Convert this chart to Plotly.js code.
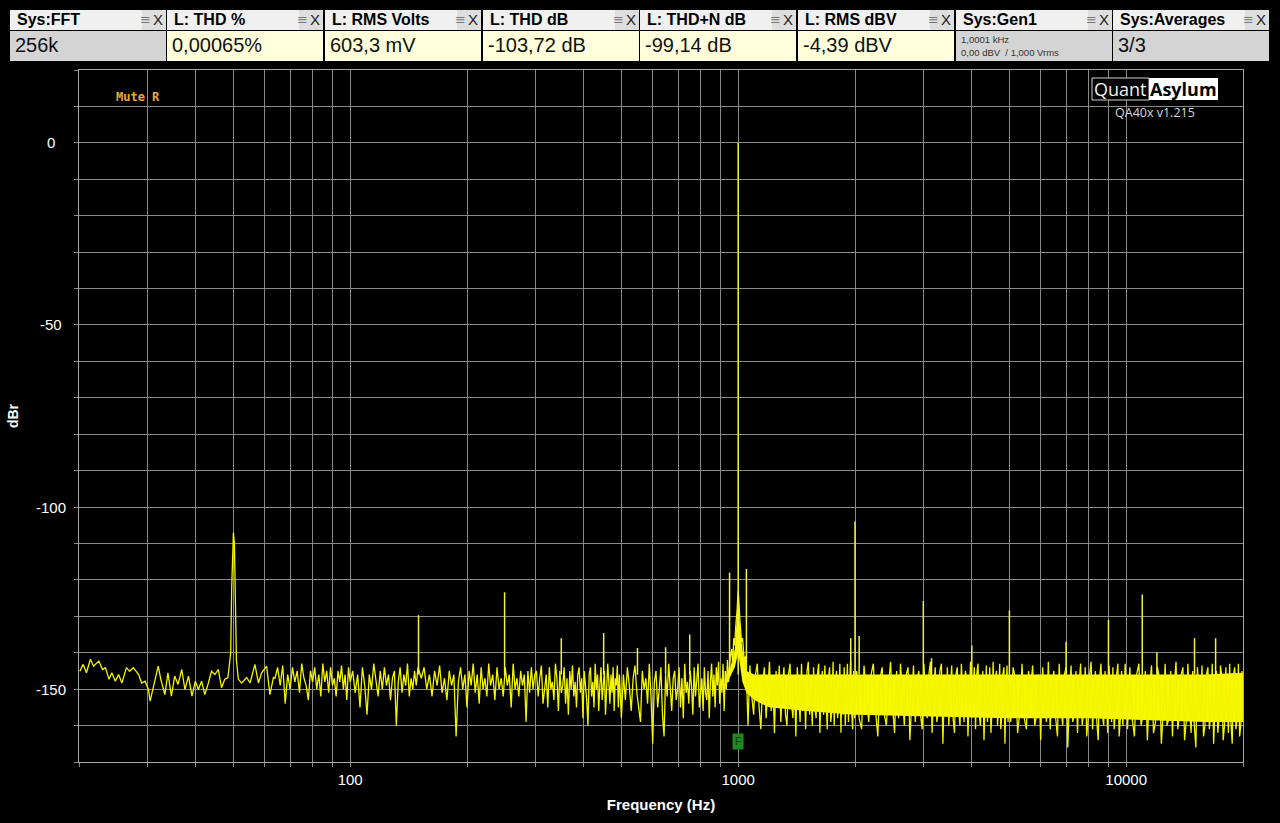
<!DOCTYPE html>
<html>
<head>
<meta charset="utf-8">
<script src="https://cdn.plot.ly/plotly-3.0.1.min.js"></script>
<style>
html,body{margin:0;padding:0;background:#000;}
#chart{width:1280px;height:823px;}
</style>
</head>
<body>
<div id="chart"></div>
<script>
// ---------------- DATA ----------------
// Header readouts
const headerLabels = ['Sys:FFT','L: THD %','L: RMS Volts','L: THD dB','L: THD+N dB','L: RMS dBV','Sys:Gen1','Sys:Averages'];
const headerValues = ['256k','0,00065%','603,3 mV','-103,72 dB','-99,14 dB','-4,39 dBV','','3/3'];
const gen1Lines = ['1,0001 kHz','0,00 dBV  / 1,000 Vrms'];

// Axis ticks
const xGridHz = [20,30,40,50,60,70,80,90,100,200,300,400,500,600,700,800,900,1000,2000,3000,4000,5000,6000,7000,8000,9000,10000,20000];
const xLabelHz = [100,1000,10000];
const yGridDbr = [-170,-160,-150,-140,-130,-120,-110,-100,-90,-80,-70,-60,-50,-40,-30,-20,-10,0,10,20];
const yLabelDbr = [0,-50,-100,-150];

// Spectrum, 20–63 Hz (incl. 50 Hz hum)
const segA_hz = [20.1,20.5,20.9,21.4,21.8,22.5,23.0,23.4,23.9,24.3,
  24.8,25.3,25.8,26.5,27.0,27.6,28.5,29.0,29.6,30.2,
  30.5,31.1,32.0,32.5,33.3,33.9,34.6,35.3,36.0,36.8,
  37.5,38.3,39.1,39.9,40.6,41.4,42.2,43.1,43.9,44.8,
  45.7,46.6,47.5,48.4,49.2,49.5,49.8,50.0,50.3,50.6,
  50.9,51.5,52.5,54.1,55.2,56.8,58.0,59.1,60.9,62.1,63.4];
const segA_dbr = [-145.1,-143.2,-145.5,-141.8,-143.7,-142.3,-144.6,-144.1,-147.3,-145.5,
  -147.8,-146,-148.3,-144.1,-145.1,-144.1,-146,-148.3,-147.8,-150.1,
  -153.3,-149.6,-143.7,-147.3,-151.5,-145.5,-151.9,-146.4,-148.7,-144.6,
  -150.1,-146.4,-151.9,-147.8,-150.1,-147.8,-151.5,-148.3,-145.1,-146,
  -144.6,-149.6,-147.3,-146.8,-140,-122,-108,-107,-110,-126,
  -142,-147.3,-148.3,-146.8,-148.3,-143.2,-148.3,-145.5,-143.7,-151.5,-146.8];

// Spectrum, 64–300 Hz
const segB_hz = [64,65,66,67,68,69,70,71,72,73,74,75,76,77,78,79,80,81,82,83,84,85,86,87,88,89,90,91,92,93,94,95,96,97,98,99,100,
  101.5,103,104.5,106,107.5,109,110.5,112,113.5,115,116.5,118,119.5,121,122.5,124,125.5,127,128.5,130,131.5,133,134.5,136,137.5,139,140.5,142,143.5,145,146.5,148,149.5,
  152.5,155,157.5,160,162.5,165,167.5,170,172.5,175,177.5,180,182.5,185,187.5,190,192.5,195,197.5,200,202.5,205,207.5,210,212.5,215,217.5,220,222.5,225,227.5,230,
  233,236,239,242,245,248,251,254,257,260,263,266,269,272,275,278,281,284,287,290,293,296,299];
const segB_dbr = [-147,-144,-149,-143.5,-154,-146,-150,-144,-148,-145,-151,-143,-147,-149,-153,-145,-148,-144,-150,-146,-152,-143,-148,-145,-151,-144,-149,-147,-152,-145,-148,-143.5,-150,-146,-153,-144,-148,
  -145,-151,-146,-155,-144,-149,-157,-146,-150,-143,-148,-152,-145,-150,-144,-149,-146,-153,-147,-145,-160,-148,-144,-151,-146,-149,-143,-152,-147,-150,-145,-149,-144,
  -147,-144,-150,-146,-152,-145,-149,-143.5,-151,-147,-153,-145,-149,-146,-163,-148,-144,-150,-146,-155,-145,-149,-143,-151,-146,-154,-144,-150,-147,-152,-143,-149,
  -146,-153,-144,-150,-147,-152,-144,-149,-146,-155,-143,-150,-147,-152,-145,-149,-146,-159,-145,-151,-144,-150,-146];

// Spectrum, 300–500 Hz
const segC_hz = [302,305,308,311,314,317,320,323,326,329,332,335,338,341,344,347,350,353,356,359,
  362,365,368,371,374,377,380,383,386,389,392,395,398,401,404,407,410,413,416,419,
  422,425,428,431,434,437,440,443,446,449,452,455,458,461,464,467,470,473,476,479,
  482,485,488,491,494,497,500];
const segC_dbr = [-145,-152,-147,-143.5,-154,-149,-146,-155,-144,-150,
  -148,-153,-143,-147,-156,-145,-151,-149,-144,-154,
  -147,-157,-145,-150,-143.5,-152,-148,-155,-146,-144,
  -151,-147,-158,-145,-149,-153,-160,-146,-144,-152,
  -148,-155,-143,-150,-146,-156,-149,-144,-153,-147,
  -145,-157,-150,-143,-148,-154,-146,-151,-144,-156,
  -147,-149,-143.5,-155,-146,-152,-158];

// Spectrum, 500–950 Hz
const segD_hz = [506,512,518,524,530,536,542,548,554,560,566,572,578,584,590,596,602,608,614,620,
  626,632,638,644,650,656,662,668,674,680,686,692,698,704,710,716,722,728,734,740,
  746,752,758,764,770,776,782,788,794,800,806,812,818,824,830,836,842,848,854,860,
  866,872,878,884,890,896,902,908,914,920,926,932,938,944];
const segD_dbr = [-146,-153,-144,-149,-156,-147,-143.5,-151,-155,-159,
  -145,-150,-147,-154,-143,-152,-165,-148,-145,-155,
  -150,-144,-157,-163,-146,-152,-143,-149,-156,-147,
  -145,-153,-150,-144,-155,-147,-158,-143,-151,-148,
  -154,-145,-149,-157,-144,-152,-146,-143,-155,-150,
  -147,-156,-144,-151,-153,-145,-158,-148,-143,-152,
  -146,-155,-144,-149,-142.5,-154,-147,-151,-143,-156,
  -145,-150,-142,-148];

// Skirt around the 1 kHz fundamental
const skirt_hz = [954,962,968,974,980,985,990,994,997,1000,1003,1006,1010,1015,1020,1026,1032,1038,1044,1050];
const skirt_dbr = [-141,-139,-143,-136,-138,-133,-131,-128,-125,-123,-125,-129,-131,-134,-137,-136,-140,-143,-141,-146];

// Spectrum, 1.06–2 kHz
const segE_hz = [1060,1072,1084,1096,1108,1120,1132,1144,1156,1168,1180,1192,1204,1216,1228,1240,1252,1264,1276,1288,
  1300,1312,1324,1336,1348,1360,1372,1384,1396,1408,1420,1432,1444,1456,1468,1480,1492,1504,1516,1528,
  1540,1552,1564,1576,1588,1600,1612,1624,1636,1648,1660,1672,1684,1696,1708,1720,1732,1744,1756,1768,
  1780,1792,1804,1816,1828,1840,1852,1864,1876,1888,1900,1912,1924,1936,1948,1960,1972,1984,1996];
const segE_dbr = [-160,-143.5,-152,-157,-146,-143,-155,-161,-148,-144,
  -158,-150,-142.5,-156,-147,-162,-145,-153,-143.5,-159,
  -149,-144,-157,-160,-146,-143,-154,-158,-147,-163,
  -144,-151,-159,-143,-156,-148,-161,-145,-142.5,-157,
  -150,-160,-144,-155,-158,-146,-143,-162,-149,-145,
  -157,-143.5,-153,-161,-147,-144,-159,-156,-142.5,-160,
  -148,-145,-158,-154,-143,-162,-146,-157,-144,-160,
  -151,-143,-159,-147,-142,-156,-161,-145,-158];

// Spectrum, 2–5 kHz
const segF_hz = [2020,2050,2080,2110,2140,2170,2200,2230,2260,2290,
  2320,2350,2380,2410,2440,2470,2500,2530,2560,2590,
  2620,2650,2680,2710,2740,2770,2800,2830,2860,2890,
  2920,2950,2980,3010,3040,3070,3100,3130,3160,3190,
  3220,3250,3280,3310,3340,3370,3400,3430,3460,3490,
  3520,3550,3580,3610,3640,3670,3700,3730,3760,3790,
  3820,3850,3880,3910,3940,3970,4000,4030,4060,4090,
  4120,4150,4180,4210,4240,4270,4300,4330,4360,4390,
  4420,4450,4480,4510,4540,4570,4600,4630,4660,4690,
  4720,4750,4780,4810,4840,4870,4900,4930,4960,4990];
const segF_dbr = [-145,-158,-161,-143.5,-152,-159,-146,-143,-156,-163,
  -147,-144,-157,-160,-149,-142.5,-155,-162,-145,-158,
  -143,-151,-160,-146,-144,-164,-155,-143.5,-159,-148,
  -145,-157,-161,-143,-153,-158,-146,-142.5,-162,-150,
  -144,-159,-156,-145,-143,-165,-148,-157,-144,-160,
  -151,-143.5,-158,-162,-146,-144,-156,-160,-143,-153,
  -159,-145,-147,-163,-155,-142.5,-158,-149,-144,-161,
  -146,-143,-157,-160,-150,-145,-164,-153,-143.5,-159,
  -148,-144,-162,-156,-142.5,-158,-147,-145,-160,-154,
  -143,-161,-157,-146,-144,-165,-151,-143.5,-159,-148];

// Spectrum, 5–10 kHz
const segG_hz = [5040,5110,5180,5250,5320,5390,5460,5530,5600,5670,
  5740,5810,5880,5950,6020,6090,6160,6230,6300,6370,
  6440,6510,6580,6650,6720,6790,6860,6930,7000,7070,
  7140,7210,7280,7350,7420,7490,7560,7630,7700,7770,
  7840,7910,7980,8050,8120,8190,8260,8330,8400,8470,
  8540,8610,8680,8750,8820,8890,8960,9030,9100,9170,
  9240,9310,9380,9450,9520,9590,9660,9730,9800,9870,9940];
const segG_dbr = [-159,-144,-147,-162,-156,-143,-158,-161,-145,-150,
  -143.5,-160,-157,-146,-164,-144,-153,-159,-142.5,-161,
  -148,-145,-158,-163,-143,-155,-160,-146,-144,-166,
  -152,-143.5,-159,-157,-145,-162,-149,-143,-160,-156,
  -144,-163,-158,-146,-142.5,-161,-153,-145,-159,-164,
  -147,-143,-157,-160,-145,-155,-162,-143.5,-150,-159,
  -144,-161,-156,-146,-143,-163,-158,-145,-160,-152,-143];

// Spectrum, 10–20 kHz
const segH_hz = [10080,10220,10360,10500,10640,10780,10920,11060,11200,11340,
  11480,11620,11760,11900,12040,12180,12320,12460,12600,12740,
  12880,13020,13160,13300,13440,13580,13720,13860,14000,14140,
  14280,14420,14560,14700,14840,14980,15120,15260,15400,15540,
  15680,15820,15960,16100,16240,16380,16520,16660,16800,16940,
  17080,17220,17360,17500,17640,17780,17920,18060,18200,18340,
  18480,18620,18760,18900,19040,19180,19320,19460,19600,19740,19880];
const segH_dbr = [-161,-144,-158,-163,-146,-143,-160,-157,-145,-164,
  -150,-143.5,-162,-159,-144,-147,-165,-156,-143,-160,
  -158,-145,-163,-149,-142.5,-161,-157,-146,-144,-164,
  -159,-143,-155,-162,-145,-160,-166,-144,-151,-158,
  -143.5,-163,-160,-146,-144,-161,-157,-143,-165,-152,
  -145,-162,-158,-143.5,-147,-164,-160,-144,-156,-162,
  -143,-159,-165,-146,-144,-161,-158,-143,-163,-160,-145];

// Solid core of the noise band (envelope)
const bandHz     = [930,960,980,990,1000,1010,1025,1050,1100,1200,1500,2000,3000,5000,8000,12000,16000,20000];
const bandTop    = [-148,-143,-139,-132,-124,-132,-139,-145,-146,-146,-146,-146,-146,-146,-146,-146,-146,-145.5];
const bandBottom = [-149,-146,-144,-142,-140,-143,-148,-151,-153,-155,-156,-157,-157.5,-158,-158,-158.5,-159,-159];

// Discrete tones (fundamental, harmonics, mains-related spurs)
const spikeHz  = [150,250,350,450,550,650,750,950,1000,1050,1950,2000,2050,3000,3150,4000,5000,7000,9000,11000,12000,15000,17000];
const spikeDbr = [-129.7,-123.4,-136,-134.6,-138.7,-138.5,-135,-118,0,-117,-136,-104,-135.4,-125.8,-141.5,-138,-128.4,-137,-131,-124,-140,-136,-136];

// ---------------- STYLE / LAYOUT ----------------
const PL = 79, PT = 70, PW = 1164, PH = 692;       // plot area in px
const px = v => (v - PL) / PW;                      // px -> paper x
const py = v => (PT + PH - v) / PH;                 // px -> paper y
const spikeBase = -146;
const FONT = 'Liberation Sans, Arial, sans-serif';
const gridCol = '#8a8a8a';
const yellow = '#ffff00';

const specHz = [].concat(segA_hz, segB_hz, segC_hz, segD_hz, skirt_hz, segE_hz, segF_hz, segG_hz, segH_hz);
const specDbr = [].concat(segA_dbr, segB_dbr, segC_dbr, segD_dbr, skirt_dbr, segE_dbr, segF_dbr, segG_dbr, segH_dbr);

const traces = [
  {x: bandHz, y: bandBottom, mode: 'lines', line: {width: 0, color: yellow}, hoverinfo: 'skip', showlegend: false},
  {x: bandHz, y: bandTop, mode: 'lines', line: {width: 0, color: yellow}, fill: 'tonexty', fillcolor: '#f8f800', hoverinfo: 'skip', showlegend: false},
  {x: specHz, y: specDbr, mode: 'lines', line: {width: 1.3, color: '#f4f400'}, showlegend: false},
  {x: spikeHz.flatMap(f => [f, f, null]), y: spikeDbr.flatMap(d => [spikeBase, d, null]),
   mode: 'lines', line: {width: 1.5, color: '#f2f23a'}, connectgaps: false, showlegend: false}
];

const shapes = [];
const annotations = [];

// header boxes
const boxLeft = [10,167,325,483,640,798,956,1113];
const boxW = 156;
headerLabels.forEach((lab, i) => {
  const x0 = boxLeft[i], x1 = x0 + boxW;
  const isSys = lab.startsWith('Sys');
  shapes.push({type:'rect', xref:'paper', yref:'paper', x0:px(x0), x1:px(x1), y0:py(30), y1:py(10),
    fillcolor:'#f0f0f0', line:{width:0}, layer:'above'});
  shapes.push({type:'rect', xref:'paper', yref:'paper', x0:px(x1-24), x1:px(x1), y0:py(30), y1:py(10),
    fillcolor:'#dedede', line:{width:0}, layer:'above'});
  shapes.push({type:'rect', xref:'paper', yref:'paper', x0:px(x0), x1:px(x1), y0:py(61), y1:py(31),
    fillcolor: isSys ? '#d4d4d4' : '#ffffdc', line:{width:0}, layer:'above'});
  annotations.push({xref:'paper', yref:'paper', x:px(x0+5), y:py(20), xanchor:'left', yanchor:'middle',
    text:'<b>'+lab+'</b>', showarrow:false, font:{family:FONT, size:16, color:'#000'}});
  annotations.push({xref:'paper', yref:'paper', x:px(x1-13), y:py(20), xanchor:'right', yanchor:'middle',
    text:'≡', showarrow:false, font:{family:'DejaVu Sans, sans-serif', size:13, color:'#777'}});
  annotations.push({xref:'paper', yref:'paper', x:px(x1-1), y:py(20), xanchor:'right', yanchor:'middle',
    text:'X', showarrow:false, font:{family:FONT, size:15, color:'#222'}});
  if (headerValues[i]) {
    annotations.push({xref:'paper', yref:'paper', x:px(x0+3), y:py(45), xanchor:'left', yanchor:'middle',
      text:headerValues[i], showarrow:false, font:{family:FONT, size:20, color:'#111'}});
  }
});
// Gen1 two-line value
gen1Lines.forEach((t, k) => {
  annotations.push({xref:'paper', yref:'paper', x:px(boxLeft[6]+3), y:py(40 + k*12), xanchor:'left', yanchor:'middle',
    text:t, showarrow:false, font:{family:FONT, size:9.5, color:'#333'}});
});

// logo
shapes.push({type:'rect', xref:'paper', yref:'paper', x0:px(1092), x1:px(1149), y0:py(100), y1:py(78),
  fillcolor:'#000', line:{width:1, color:'#cfcfcf'}, layer:'above'});
shapes.push({type:'rect', xref:'paper', yref:'paper', x0:px(1149), x1:px(1218), y0:py(100), y1:py(78),
  fillcolor:'#ffffff', line:{width:0}, layer:'above'});
annotations.push({xref:'paper', yref:'paper', x:px(1120.5), y:py(89), xanchor:'center', yanchor:'middle',
  text:'Quant', showarrow:false, font:{family:'Open Sans, Noto Sans, sans-serif', size:18, color:'#f0f0f0'}});
annotations.push({xref:'paper', yref:'paper', x:px(1183.5), y:py(89), xanchor:'center', yanchor:'middle',
  text:'<b>Asylum</b>', showarrow:false, font:{family:'Open Sans, Noto Sans, sans-serif', size:18, color:'#000'}});
annotations.push({xref:'paper', yref:'paper', x:px(1155), y:py(112), xanchor:'center', yanchor:'middle',
  text:'QA40x v1.215', showarrow:false, font:{family:'Open Sans, Noto Sans, sans-serif', size:12.5, color:'#d8d8d8'}});

// Mute R
annotations.push({xref:'paper', yref:'paper', x:px(114), y:py(97), xanchor:'left', yanchor:'middle',
  text:'<b>Mute R</b>', showarrow:false, font:{family:'DejaVu Sans Mono, monospace', size:12, color:'#eca83a'}});

// y tick labels (centered, as in the reference)
yLabelDbr.forEach(v => {
  annotations.push({xref:'paper', yref:'y', x:px(51), y:v, xanchor:'center', yanchor:'middle',
    text:String(v), showarrow:false, font:{family:FONT, size:15, color:'#ffffff'}});
});

// F marker at fundamental
annotations.push({xref:'x', yref:'y', x:Math.log10(1000), y:-164.3, xanchor:'center', yanchor:'middle',
  text:'F', showarrow:false, bgcolor:'#1f8a1f', borderpad:2, font:{family:FONT, size:10, color:'#0a3a0a'}});

const layout = {
  width: 1280, height: 823,
  paper_bgcolor: '#000', plot_bgcolor: '#000',
  margin: {l: PL, r: 1280 - PL - PW, t: PT, b: 823 - PT - PH, pad: 0},
  showlegend: false,
  xaxis: {
    type: 'log', range: [Math.log10(20), Math.log10(20000)],
    tickmode: 'array', tickvals: xGridHz,
    ticktext: xGridHz.map(v => xLabelHz.includes(v) ? String(v) : ''),
    showgrid: true, gridcolor: gridCol, gridwidth: 1,
    ticks: 'outside', ticklen: 4, tickcolor: gridCol, tickwidth: 1,
    showline: true, linecolor: '#a8a8a8', linewidth: 1, mirror: true,
    tickfont: {family: FONT, size: 15, color: '#ffffff'},
    zeroline: false,
    title: {text: '<b>Frequency (Hz)</b>', font: {family: FONT, size: 15, color: '#ffffff'}, standoff: 12}
  },
  yaxis: {
    range: [-170, 20],
    tickmode: 'array', tickvals: yGridDbr, ticktext: yGridDbr.map(() => ''),
    showticklabels: false,
    showgrid: true, gridcolor: gridCol, gridwidth: 1,
    ticks: 'outside', ticklen: 4, tickcolor: gridCol, tickwidth: 1,
    showline: true, linecolor: '#a8a8a8', linewidth: 1, mirror: true,
    zeroline: false,
    title: {text: '<b>dBr</b>', font: {family: FONT, size: 14, color: '#ffffff'}, standoff: 52}
  },
  shapes: shapes,
  annotations: annotations
};

Plotly.newPlot('chart', traces, layout, {displayModeBar: false, staticPlot: true});
</script>
</body>
</html>
